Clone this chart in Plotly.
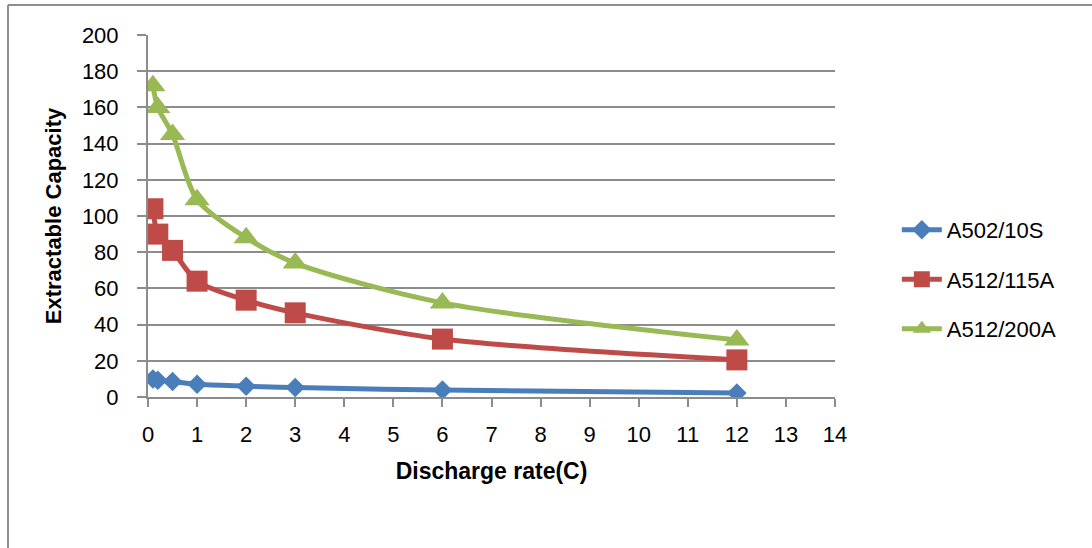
import plotly.graph_objects as go

# Discharge rate (C) and extractable capacity per battery type
rate = [0.1, 0.2, 0.5, 1, 2, 3, 6, 12]
cap_a502_10s = [10, 9.3, 8.6, 7, 6, 5.2, 3.8, 2.2]
cap_a512_115a = [104, 90, 81, 64, 53.5, 46.5, 32, 20.5]
cap_a512_200a = [172, 160, 145, 109, 88, 74, 52, 31.5]

series_names = ["A502/10S", "A512/115A", "A512/200A"]
series_colors = ["#4A7EBB", "#BE4B48", "#98B954"]
series_symbols = ["diamond", "square", "triangle-up"]
series_sizes = [15, 21, 22]
series_values = [cap_a502_10s, cap_a512_115a, cap_a512_200a]

W, H = 1092, 548
ML, MR, MT, MB = 148, 257, 35, 151
FONT = "Liberation Sans"
GRID = "#8C8C8C"

fig = go.Figure()
for name, vals, col, sym, sz in zip(series_names, series_values, series_colors,
                                    series_symbols, series_sizes):
    fig.add_trace(go.Scatter(
        x=rate, y=vals, name=name, legendgroup=name,
        mode="lines+markers",
        line=dict(color=col, width=5, shape="spline", smoothing=0.8),
        marker=dict(symbol=sym, size=sz, color=col),
    ))

# outer chart frame (top and left edges visible)
pw = W - ML - MR
ph = H - MT - MB
fx0 = (8 - ML) / pw
fy1 = (H - MB - 5) / ph
fig.add_shape(type="line", xref="paper", yref="paper",
              x0=fx0, x1=(W - ML) / pw + 0.05, y0=fy1, y1=fy1,
              line=dict(color="#8E8E8E", width=2))
fig.add_shape(type="line", xref="paper", yref="paper",
              x0=fx0, x1=fx0, y0=fy1, y1=-MB / ph - 0.05,
              line=dict(color="#8E8E8E", width=2))

fig.update_layout(
    width=W, height=H,
    margin=dict(l=ML, r=MR, t=MT, b=MB),
    paper_bgcolor="white", plot_bgcolor="white",
    font=dict(family=FONT, size=22, color="black"),
    showlegend=True,
    legend=dict(x=1.09, y=0.325, xanchor="left", yanchor="middle",
                font=dict(family=FONT, size=22, color="black"),
                tracegroupgap=18, itemwidth=40,
                bgcolor="rgba(0,0,0,0)"),
    xaxis=dict(
        range=[0, 14], dtick=1, tick0=0,
        showgrid=False, zeroline=False,
        showline=True, linecolor=GRID, linewidth=2,
        ticks="outside", ticklen=8, tickcolor=GRID, tickwidth=2,
        ticklabelstandoff=9,
        tickfont=dict(family=FONT, size=22),
        title=dict(text="<b>Discharge rate(C)</b>",
                   font=dict(family=FONT, size=23), standoff=16),
    ),
    yaxis=dict(
        range=[0, 200], dtick=20, tick0=0,
        showgrid=True, gridcolor=GRID, gridwidth=2,
        zeroline=False,
        showline=True, linecolor=GRID, linewidth=2,
        ticks="outside", ticklen=9, tickcolor=GRID, tickwidth=2,
        ticklabelstandoff=14,
        tickfont=dict(family=FONT, size=22),
        title=dict(text="<b>Extractable Capacity</b>",
                   font=dict(family=FONT, size=22), standoff=14),
    ),
)

fig.write_html("out.html")
